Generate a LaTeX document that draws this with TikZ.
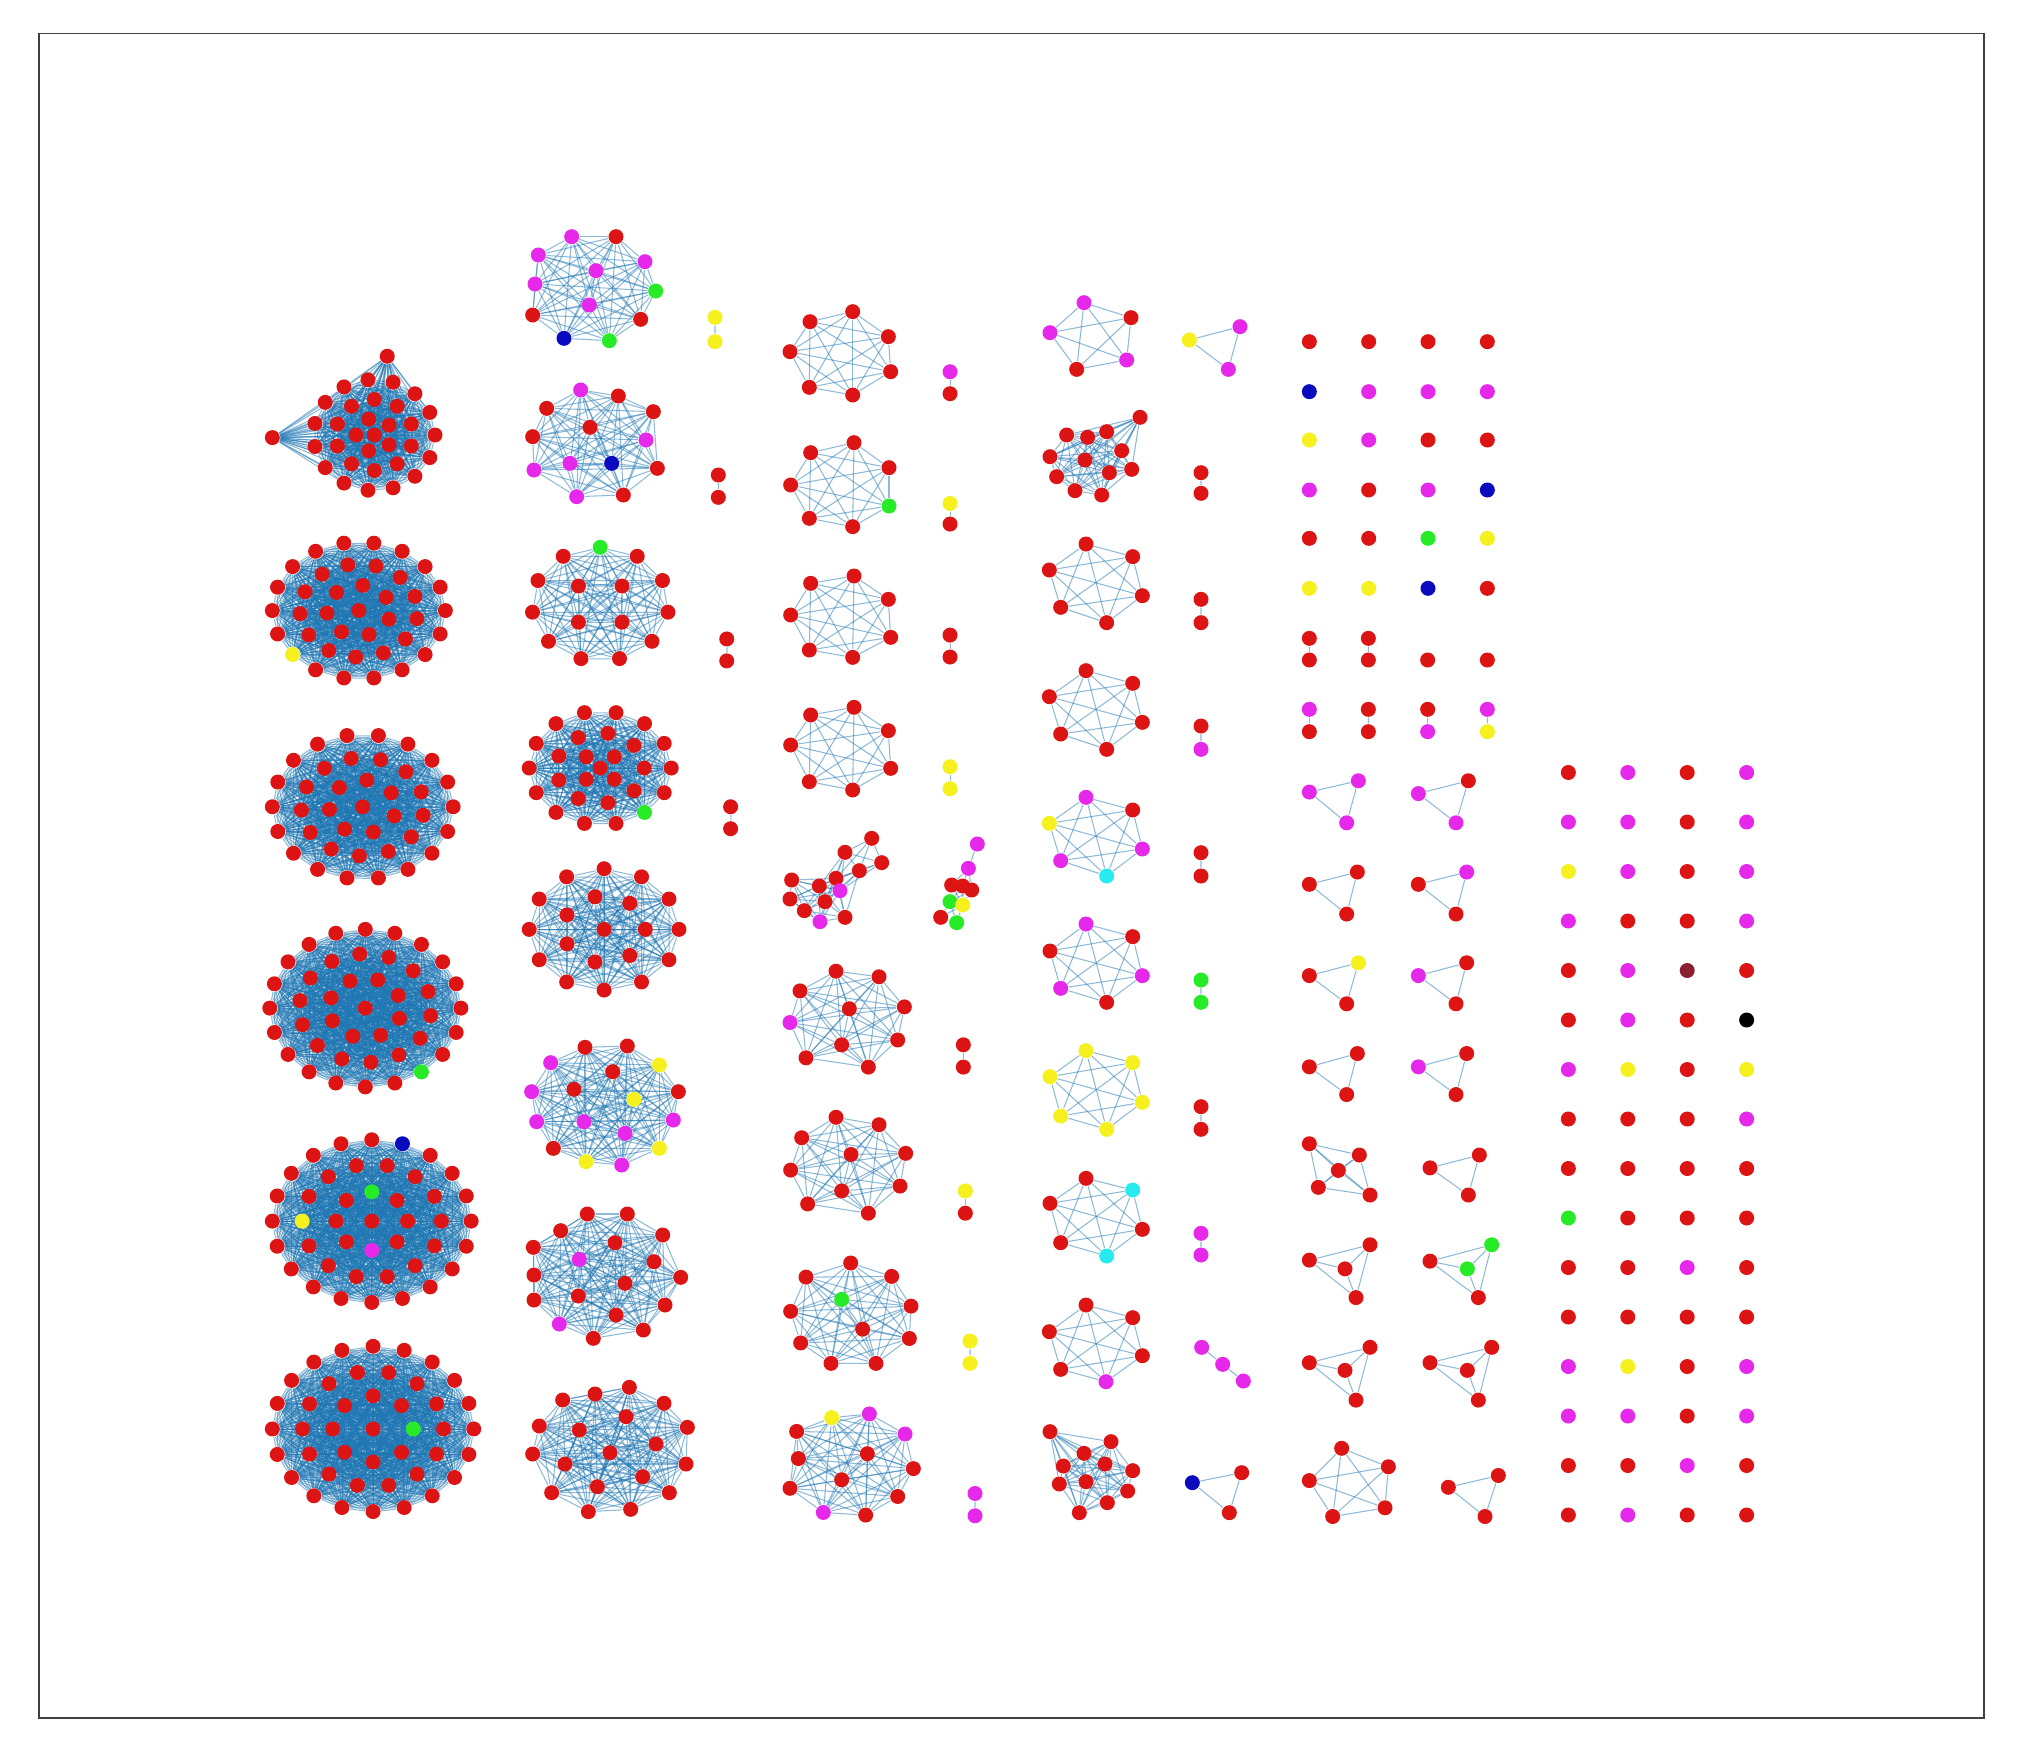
\documentclass[tikz,border=0pt]{standalone}
\definecolor{cR}{RGB}{220,20,20}
\definecolor{cM}{RGB}{230,40,235}
\definecolor{cY}{RGB}{245,240,30}
\definecolor{cG}{RGB}{40,235,40}
\definecolor{cB}{RGB}{10,10,190}
\definecolor{cC}{RGB}{40,235,240}
\definecolor{cN}{RGB}{140,30,50}
\definecolor{cK}{RGB}{0,0,0}
\definecolor{edgeblue}{RGB}{31,119,180}
\pgfdeclarelayer{bg}
\pgfsetlayers{bg,main}
\newcount\ncount
% colour of one node of a ring cluster
\newcommand\paint[3]{\expandafter\def\csname paint@#1@#2\endcsname{#3}}
% ring cluster: name, cx, cy, rx, ry, rings (count/scale/rotation), all pairs linked
\newcommand\cluster[6]{%
  \global\ncount=0
  \foreach \nn/\sc/\rot in {#6}{%
    \foreach \k in {1,...,\nn}{%
      \global\advance\ncount by 1
      \edef\idx{\the\ncount}%
      \pgfmathsetmacro\px{#2+\sc*#4*cos(\rot+(\k-1)*360/\nn)}%
      \pgfmathsetmacro\py{#3+\sc*#5*sin(\rot+(\k-1)*360/\nn)}%
      \ifcsname paint@#1@\idx\endcsname\edef\cl{\csname paint@#1@\idx\endcsname}\else\def\cl{R}\fi
      \node[vert, fill=c\cl] (#1-\idx) at (\px,\py) {};}}%
  \edef\ntot{\the\ncount}%
  \begin{pgfonlayer}{bg}
  \foreach \i in {1,...,\ntot}{\foreach \j in {\i,...,\ntot}{\ifnum\j>\i\relax\draw[link] (#1-\i) -- (#1-\j);\fi}}
  \end{pgfonlayer}}
% component: name, longest link, nodes x/y/colour
\newcommand\comp[3]{%
  \foreach \x/\y/\cl [count=\i] in {#3}{\node[vert, fill=c\cl] (#1-\i) at (\x,\y) {};}
  \begin{pgfonlayer}{bg}
  \foreach \xa/\ya/\ca [count=\i] in {#3}{%
    \foreach \xb/\yb/\cb [count=\j] in {#3}{%
      \ifnum\j>\i\relax
        \pgfmathtruncatemacro\near{veclen((\xa)-(\xb),(\ya)-(\yb))<#2}%
        \ifnum\near=1 \draw[link] (#1-\i) -- (#1-\j);\fi
      \fi}}
  \end{pgfonlayer}}
\begin{document}
\begin{tikzpicture}[x=0.01cm, y=-0.01cm,
    vert/.style={circle, inner sep=0pt, minimum size=0.15cm},
    link/.style={draw=edgeblue, line width=0.3pt, opacity=0.5},
    framebox/.style={draw=black!75, line width=0.5pt}
]
    \useasboundingbox (0,0) rectangle (2024,1760);
    \begin{pgfonlayer}{bg}
    \fill[white] (0,0) rectangle (2024,1760);
    \end{pgfonlayer}
    \draw[framebox] (38.7,33.6) rectangle (1984,1718);

    % Column 1, column 2 middle, small pairs
    \begin{scope}[scale=1.2908]
    \cluster{ca}{290}{337}{47}{43}{15/1/0, 10/0.64/18, 5/0.3/36, 1/0/0}
    \node[vert, fill=cR] (ca-o) at (211,339) {};
    \node[vert, fill=cR] (ca-t) at (300,276) {};
    \begin{pgfonlayer}{bg}
    \foreach \i in {1,...,31}{\draw[link] (ca-o) -- (ca-\i); \draw[link] (ca-t) -- (ca-\i);}
    \end{pgfonlayer}
    \paint{cb}{8}{Y}
    \cluster{cb}{278}{473}{67}{53}{18/1/0, 13/0.68/10, 7/0.37/20, 1/0/0}
    \cluster{cc}{281}{625}{70}{56}{18/1/0, 13/0.68/10, 7/0.37/20, 1/0/0}
    \paint{cd}{4}{G}
    \cluster{cd}{283}{781}{74}{61}{20/1/0, 14/0.69/8, 8/0.38/20, 1/0/0}
    \paint{ce}{17}{B}\paint{ce}{28}{Y}\paint{ce}{41}{G}\paint{ce}{37}{M}
    \cluster{ce}{288}{946}{77}{63}{20/1/0, 14/0.7/0, 8/0.36/0, 1/0/0}
    \paint{cf}{35}{G}
    \cluster{cf}{289}{1107}{78}{64}{20/1/0, 14/0.7/0, 8/0.4/0, 1/0/0}
    \paint{dc}{1}{G}
    \cluster{dc}{465}{468}{53}{44}{11/1/-90, 4/0.45/45}
    \paint{dd}{3}{G}
    \cluster{dd}{465}{595}{55}{44}{14/1/0, 9/0.62/0, 4/0.28/45, 1/0/0}
    \cluster{de}{468}{720}{58}{47}{12/1/0, 7/0.55/0, 1/0/0}
    \comp{pa}{9999}{563/495/R, 563/512/R}
    \comp{pb}{9999}{566/625/R, 566/642/R}
    \comp{pc}{9999}{736/288/M, 736/305/R}
    \comp{pd}{9999}{736/390/Y, 736/406/R}
    \comp{pe}{9999}{736/492/R, 736/509/R}
    \comp{pf}{9999}{736/594/Y, 736/611/Y}
    \end{scope}

    % Column 2 top
    \begin{scope}[shift={(510,220)}, scale=1/3]
    \comp{da}{9999}{185/50/M, 318/50/R, 85/105/M, 405/125/M, 258/152/M, 75/192/M, 437/213/G, 238/255/M, 68/285/R, 392/298/R, 162/355/B, 298/362/G}
    \comp{db}{9999}{212/510/M, 325/528/R, 110/565/R, 430/575/R, 240/622/R, 408/660/M, 68/650/R, 180/730/M, 305/730/B, 442/745/R, 72/750/M, 200/830/M, 340/825/R}
    \comp{pg}{9999}{615/292/Y, 615/365/Y}
    \comp{ph}{9999}{625/765/R, 625/832/R}
    \end{scope}

    % Column 2 bottom
    \begin{scope}[shift={(510,1020)}, scale=1/3]
    \comp{df}{9999}{225/82/R, 352/78/R, 122/128/M, 448/135/Y, 308/155/R, 192/208/R, 65/215/M, 505/215/R, 372/238/Y, 80/305/M, 222/305/M, 490/300/M, 345/340/M, 130/385/R, 448/385/Y, 228/425/Y, 335/435/M}
    \comp{dg}{9999}{232/582/R, 352/582/R, 152/632/R, 458/645/R, 315/668/R, 70/682/R, 208/718/M, 432/725/R, 512/772/R, 72/765/R, 345/790/R, 205/828/R, 465/855/R, 72/840/R, 318/885/R, 148/912/M, 400/930/R, 250/955/R}
    \comp{dh}{9999}{358/1102/R, 255/1122/R, 158/1140/R, 462/1150/R, 348/1190/R, 88/1218/R, 208/1230/R, 532/1222/R, 438/1272/R, 300/1298/R, 68/1302/R, 165/1332/R, 528/1332/R, 398/1370/R, 262/1400/R, 125/1418/R, 478/1418/R, 235/1475/R, 362/1468/R}
    \end{scope}

    % Column 3 top
    \begin{scope}[shift={(770,290)}, scale=1/3]
    \comp{ea}{9999}{248/65/R, 120/95/R, 355/140/R, 60/185/R, 362/245/R, 118/292/R, 248/315/R}
    \comp{eb}{9999}{252/458/R, 122/488/R, 357/533/R, 62/585/R, 357/648/G, 118/685/R, 248/710/R}
    \comp{ec}{9999}{252/858/R, 122/880/R, 355/928/R, 62/975/R, 362/1042/R, 118/1080/R, 248/1102/R}
    \comp{ed}{9999}{252/1252/R, 122/1275/R, 355/1322/R, 62/1365/R, 362/1435/R, 118/1475/R, 248/1500/R}
    \end{scope}

    % Column 3 middle
    \begin{scope}[shift={(770,820)}, scale=1/3]
    \comp{ee}{170}{305/55/R, 225/97/R, 335/128/R, 268/152/R, 65/180/R, 198/175/R, 148/198/R, 210/212/M, 60/237/R, 165/245/R, 103/272/R, 150/305/M, 225/292/R}
    \comp{pi}{90}{622/72/M, 595/145/M, 545/195/R, 578/198/R, 605/210/R, 540/245/G, 578/255/Y, 512/292/R, 560/308/G}
    \end{scope}

    % Column 3 bottom
    \begin{scope}[shift={(770,950)}, xscale=1/3, yscale=1/2.69]
    \comp{ef}{9999}{198/57/R, 327/72/R, 90/110/R, 238/158/R, 403/153/R, 60/195/M, 383/242/R, 215/255/R, 108/290/R, 295/315/R}
    \comp{eg}{9999}{198/450/R, 327/470/R, 95/505/R, 243/550/R, 407/547/R, 62/592/R, 390/635/R, 215/648/R, 113/683/R, 295/708/R}
    \comp{eh}{9999}{242/842/R, 108/880/R, 365/878/R, 215/940/G, 423/958/R, 62/972/R, 278/1020/R, 418/1045/R, 92/1057/R, 183/1112/R, 318/1112/R}
    \comp{ei}{9999}{185/1258/Y, 298/1248/M, 80/1295/R, 405/1302/M, 292/1355/R, 85/1368/R, 430/1395/R, 215/1425/R, 60/1448/R, 383/1470/R, 160/1513/M, 287/1520/R}
    \comp{pj}{9999}{580/255/R, 580/315/R}
    \comp{pk}{9999}{586/648/Y, 586/708/R}
    \comp{pl}{9999}{600/1052/Y, 600/1112/Y}
    \comp{pm}{9999}{615/1462/M, 615/1522/M}
    \end{scope}

    % Column 4 top
    \begin{scope}[shift={(1030,280)}, scale=1/3]
    \comp{fa}{9999}{162/68/M, 303/113/R, 60/158/M, 290/240/M, 140/268/R}
    \comp{fb}{9999}{478/180/Y, 630/140/M, 595/268/M}
    \comp{fc}{9999}{330/412/R, 110/465/R, 173/472/R, 230/455/R, 60/530/R, 275/512/R, 165/540/R, 305/568/R, 80/590/R, 238/578/R, 135/632/R, 215/645/R}
    \comp{pn}{9999}{513/578/R, 513/640/R}
    \end{scope}

    % Column 4 middle
    \begin{scope}[shift={(1030,770)}, scale=1/3]
    \comp{fd}{9999}{168/-678/R, 308/-640/R, 58/-600/R, 337/-523/R, 92/-488/R, 230/-442/R}
    \comp{po}{9999}{513/-512/R, 513/-442/R}
    \comp{fe}{9999}{168/-298/R, 308/-260/R, 58/-220/R, 337/-143/R, 92/-108/R, 230/-62/R}
    \comp{pp}{9999}{513/-132/R, 513/-62/M}
    \comp{ff}{9999}{168/82/M, 308/120/R, 58/160/Y, 337/237/M, 92/272/M, 230/318/C}
    \comp{pq}{9999}{513/248/R, 513/318/R}
    \comp{fg}{9999}{168/462/M, 308/500/R, 60/543/R, 337/617/M, 92/655/M, 230/697/R}
    \comp{pr}{9999}{513/630/G, 513/697/G}
    \comp{fh}{9999}{168/842/Y, 308/878/Y, 60/920/Y, 337/997/Y, 92/1038/Y, 230/1078/Y}
    \comp{ps}{9999}{513/1010/R, 513/1078/R}
    \comp{fi}{9999}{168/1225/R, 308/1260/C, 60/1300/R, 337/1378/R, 92/1418/R, 230/1458/C}
    \comp{pt}{9999}{513/1390/M, 513/1455/M}
    \end{scope}

    % Column 4 bottom
    \begin{scope}[shift={(1030,1280)}, scale=1/3]
    \comp{fj}{9999}{168/75/R, 308/113/R, 58/155/R, 337/227/R, 92/268/R, 228/305/M}
    \comp{pu}{100}{515/202/M, 578/253/M, 640/303/M}
    \comp{fk}{9999}{60/455/R, 243/485/R, 162/520/R, 100/558/R, 225/552/R, 308/572/R, 88/612/R, 168/605/R, 293/633/R, 232/668/R, 148/698/R}
    \comp{pv}{9999}{487/608/B, 635/578/R, 598/698/R}
    \end{scope}

    % Column 5 singles and pairs
    \begin{scope}[shift={(1280,320)}, scale=1/3]
    \foreach \y/\row in {65/{R,R,R,R}, 215/{B,M,M,M}, 360/{Y,M,R,R}, 510/{M,R,M,B}, 655/{R,R,G,Y}, 805/{Y,Y,B,R}}{
        \foreach \cl [count=\k] in \row {\node[vert, fill=c\cl] (g\y-\k) at ({88+178*(\k-1)},\y) {};}
    }
    \node[vert, fill=cR] (g1020-3) at (443,1020) {};
    \node[vert, fill=cR] (g1020-4) at (622,1020) {};
    \comp{qa}{9999}{88/955/R, 88/1020/R}
    \comp{qb}{9999}{265/955/R, 265/1020/R}
    \comp{qc}{9999}{88/1168/M, 88/1235/R}
    \comp{qd}{9999}{265/1168/R, 265/1235/R}
    \comp{qe}{9999}{443/1168/R, 443/1235/M}
    \comp{qf}{9999}{622/1168/M, 622/1235/Y}
    \end{scope}

    % Column 5 triangles
    \begin{scope}[shift={(1280,750)}, xscale=1/3, yscale=1/1.95]
    \comp{ta}{9999}{88/82/M, 235/60/M, 200/142/M}
    \comp{tb}{9999}{88/262/R, 232/238/R, 200/320/R}
    \comp{tc}{9999}{88/440/R, 235/415/Y, 200/495/R}
    \comp{td}{9999}{88/618/R, 232/592/R, 200/672/R}
    \comp{te}{9999}{88/768/R, 238/790/R, 175/820/R, 115/853/R, 270/868/R}
    \comp{tf}{9999}{88/995/R, 270/965/R, 195/1012/R, 228/1068/R}
    \comp{tg}{9999}{88/1195/R, 270/1165/R, 195/1210/R, 228/1268/R}
    \comp{th}{9999}{185/1362/R, 88/1425/R, 325/1398/R, 158/1495/R, 315/1478/R}
    \comp{ua}{9999}{415/85/M, 565/60/R, 528/142/M}
    \comp{ub}{9999}{415/262/R, 560/238/M, 528/320/R}
    \comp{uc}{9999}{415/440/M, 560/415/R, 528/495/R}
    \comp{ud}{9999}{415/618/M, 560/592/R, 528/672/R}
    \comp{ue}{9999}{450/815/R, 598/790/R, 565/868/R}
    \comp{uf}{9999}{450/997/R, 635/965/G, 562/1012/G, 595/1068/R}
    \comp{ug}{9999}{450/1195/R, 635/1165/R, 562/1210/R, 595/1268/R}
    \comp{uh}{9999}{505/1438/R, 655/1415/R, 615/1495/R}
    \end{scope}

    % Column 6 singles
    \begin{scope}[shift={(1540,750)}, xscale=1/3, yscale=1/2]
    \foreach \row [count=\r] in {{R,M,R,M}, {M,M,R,M}, {Y,M,R,M}, {M,R,R,M}, {R,M,N,R}, {R,M,R,K}, {M,Y,R,Y}, {R,R,R,M},
                                 {R,R,R,R}, {G,R,R,R}, {R,R,M,R}, {R,R,R,R}, {M,Y,R,M}, {M,M,R,M}, {R,R,M,R}, {R,M,R,R}}{
        \foreach \cl [count=\k] in \row {\node[vert, fill=c\cl] (h\r-\k) at ({85+178.3*(\k-1)},{45+99*(\r-1)}) {};}
    }
    \end{scope}
\end{tikzpicture}
\end{document}
